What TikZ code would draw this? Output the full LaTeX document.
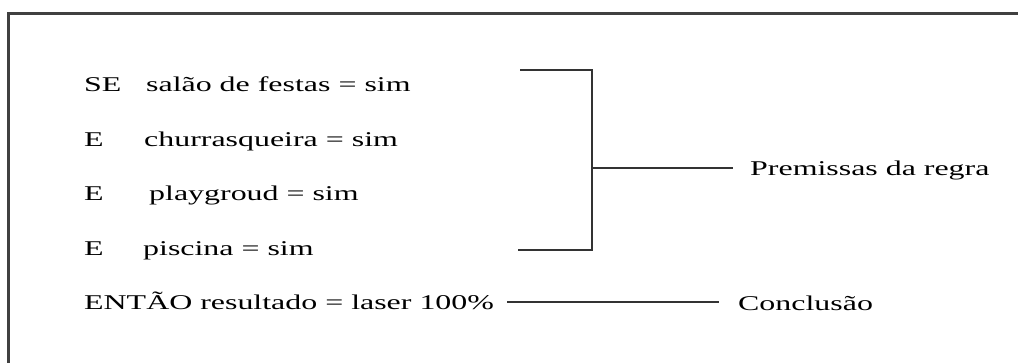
\documentclass[tikz,border=0pt]{standalone}
\usepackage{fontspec}
\newfontfamily\widefont[FakeStretch=1.52]{Liberation Serif}
\begin{document}
\begin{tikzpicture}[x=1pt,y=-1pt,
  txt/.style={anchor=base west,inner sep=0pt,font=\widefont\fontsize{21}{25}\selectfont,text=black},
  ln/.style={draw=black!80,line width=2pt}]
\useasboundingbox (0,0) rectangle (1018,363);
\clip (0,0) rectangle (1018,363);
\fill[white] (0,0) rectangle (1018,363);
% frame
\draw[draw=black!75,line width=2.4pt] (8.5,13.5) rectangle (1040,400);
% left texts
\node[txt] (k1) at (84,92) {SE};
\node[txt] (c1) at (146,92) {salão de festas = sim};
\node[txt] (k2) at (84,147) {E};
\node[txt] (c2) at (144,147) {churrasqueira = sim};
\node[txt] (k3) at (84,201) {E};
\node[txt] (c3) at (149,201) {playgroud = sim};
\node[txt] (k4) at (84,256) {E};
\node[txt] (c4) at (143,256) {piscina = sim};
\node[txt] (entao) at (84,310) {ENTÃO resultado = laser 100\%};
% right labels
\node[txt] (prem) at (750,176) {Premissas da regra};
\node[txt] (concl) at (738,311) {Conclusão};
% bracket
\coordinate (bt) at (520,70);
\coordinate (bb) at (518,250);
\coordinate (vt) at (592,70);
\coordinate (vb) at (592,250);
\coordinate (vm) at (592,168);
\coordinate (pm) at (733,168);
\draw[ln] (bt) -- (vt) -- (vb) -- (bb);
\draw[ln] (vm) -- (pm);
% conclusion line
\coordinate (ca) at (507,302);
\coordinate (cb) at (719,302);
\draw[ln] (ca) -- (cb);
\end{tikzpicture}
\end{document}
